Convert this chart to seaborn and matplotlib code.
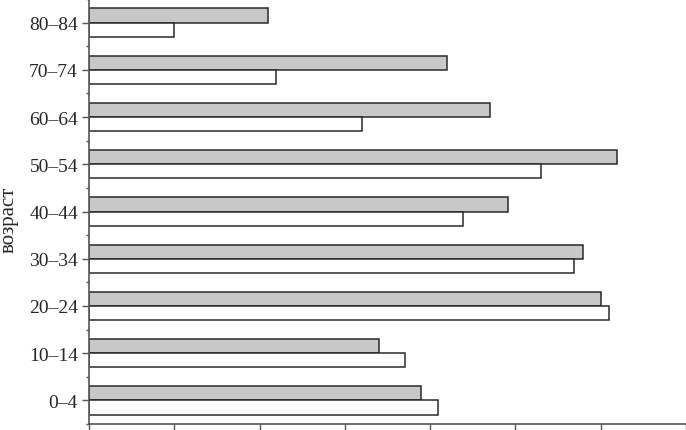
import numpy as np
import pandas as pd
import seaborn as sns
import matplotlib.pyplot as plt
from matplotlib.ticker import FixedLocator, NullFormatter

# возрастные группы (сверху вниз)
groups = ["80–84", "70–74", "60–64", "50–54", "40–44", "30–34", "20–24", "10–14", "0–4"]
serie_gris = [2.10, 4.20, 4.70, 6.19, 4.91, 5.79, 6.00, 3.40, 3.89]
serie_blanca = [1.00, 2.19, 3.20, 5.30, 4.38, 5.69, 6.10, 3.70, 4.09]

df = pd.DataFrame({
    "grupo": groups * 2,
    "valor": serie_gris + serie_blanca,
    "serie": ["A"] * len(groups) + ["B"] * len(groups),
})

sns.set_style("ticks")
plt.rcParams["font.family"] = ["Liberation Serif", "DejaVu Serif"]

fig = plt.figure(figsize=(6.86, 4.31), dpi=100)
ax = fig.add_axes([89 / 686, 6 / 431, 597 / 686, 425 / 431])

sns.barplot(data=df, x="valor", y="grupo", hue="serie", order=groups,
            hue_order=["A", "B"], palette={"A": "#c8c8c8", "B": "#ffffff"},
            orient="h", width=0.6, gap=0, edgecolor="#2a2a2a", linewidth=1.1,
            legend=False, ax=ax)

ax.set_xlim(0, 7)
ax.set_ylim(len(groups) - 0.5, -0.5)
ax.set_xticks(np.arange(0, 8))
ax.xaxis.set_major_formatter(NullFormatter())
ax.tick_params(axis="x", direction="out", length=6, width=1, color="#555555")
ax.tick_params(axis="y", which="major", direction="out", length=5, width=1,
               color="#555555", labelsize=14, pad=3)
ax.yaxis.set_minor_locator(FixedLocator(np.arange(-0.5, len(groups), 1.0)))
ax.tick_params(axis="y", which="minor", direction="out", length=2.5, width=1, color="#555555")

for side in ["top", "right"]:
    ax.spines[side].set_visible(False)
for side in ["left", "bottom"]:
    ax.spines[side].set_color("#555555")
    ax.spines[side].set_linewidth(1.2)

ax.set_xlabel("")
ax.set_ylabel("возраст", fontsize=15)
ax.yaxis.set_label_coords(-0.118, 0.482)

fig.savefig("out.png", dpi=100)
